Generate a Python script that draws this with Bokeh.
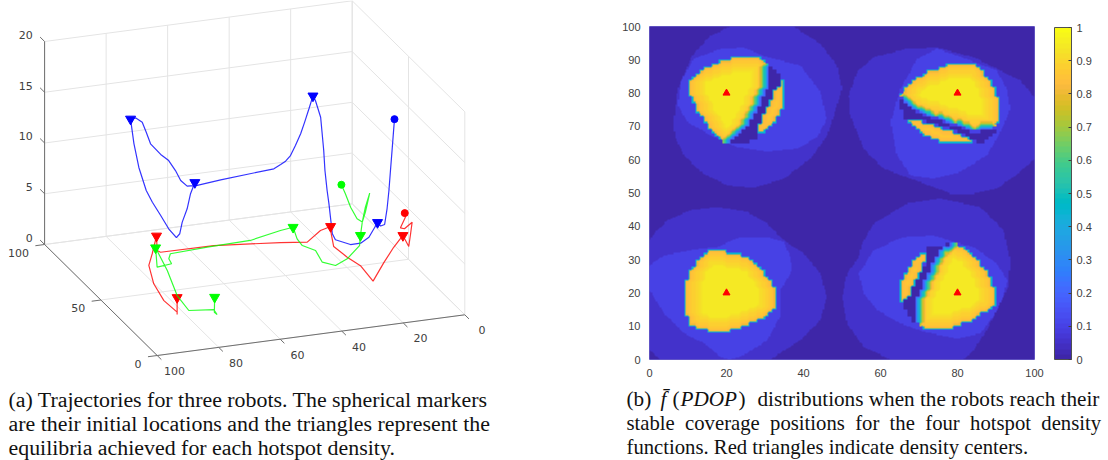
import numpy as np
from bokeh.core.properties import value
from bokeh.embed import file_html
from bokeh.layouts import column, row
from bokeh.models import ColorBar, FixedTicker, LinearColorMapper, Range1d
from bokeh.plotting import figure
from bokeh.resources import INLINE

# ---------- left chart: trajectories (x, y, z) ----------
BLUE_X = [0.9, 1.6, 2.2, 2.7, 3.3, 4.1, 5.4, 6.4, 9.2, 11.9, 15.2, 20.1, 21.1, 22.2, 22.8, 23.5, 23.9, 24.9, 26.6, 27.4,
          28.7, 30.1, 31.4, 33.1, 34.7, 36.3, 37.9, 40.1, 57.4, 65.0, 68.3, 70.4, 72.1, 74.3, 76.9, 80.2, 81.6, 82.9, 85.1, 86.7,
          85.6, 84.0, 81.6, 79.6, 76.9, 74.3, 71.8, 70.7, 69.9, 68.3, 67.2, 65.8]
BLUE_Z = [12.75, 10.02, 7.74, 5.79, 4.04, 2.50, 2.40, 2.79, 1.45, 0.97, 0.97, 1.64, 2.27, 5.26, 6.60, 8.60, 10.58, 13.90, 15.62, 16.10,
          14.89, 13.63, 12.53, 11.45, 10.52, 10.03, 9.76, 9.43, 9.04, 8.79, 8.85, 9.50, 10.54, 11.61, 12.32, 13.50, 14.70, 15.73, 16.26, 16.20,
          13.74, 11.32, 8.96, 7.72, 6.30, 4.89, 3.92, 4.26, 5.37, 6.62, 8.06, 9.11]
BLUE_Y = [60.0] * len(BLUE_X)
BLUE_STOPS = [7, 19, 39, 51]

RED_X = [12.2, 12.0, 13.6, 12.3, 9.8, 10.3, 10.9, 12.8, 15.8, 19.0, 22.5, 26.6, 30.9, 35.3, 36.1, 36.3, 39.6, 43.9, 52.6,
         74.3, 91.6, 92.7, 92.9, 94.3, 95.4, 93.8, 90.5, 86.2, 86.2, 86.2]
RED_Z = [8.32, 7.91, 6.93, 6.78, 7.33, 6.21, 4.98, 6.14, 5.10, 3.71, 2.03, 3.72, 4.73, 5.95, 7.24, 7.97, 7.71, 6.73, 7.04,
         7.61, 7.65, 7.86, 9.30, 7.61, 6.50, 4.63, 2.84, 1.53, 1.30, 2.97]
RED_Y = [20.0] * len(RED_X)
RED_STOPS = [7, 15, 22, 29]

GREEN_X = [32.8, 31.5, 29.8, 27.7, 26.0, 25.0, 23.6, 25.0, 26.0, 26.6, 26.9, 30.9, 34.7, 39.0, 41.2, 45.5, 47.2, 48.5,
           52.6, 62.4, 76.4, 88.4, 88.9, 88.0, 92.7, 93.2, 89.4, 86.2, 82.4, 74.3, 73.2, 74.1, 74.0]
GREEN_Z = [11.94, 11.00, 9.60, 8.38, 8.00, 8.93, 10.74, 9.42, 8.00, 6.70, 5.71, 4.57, 4.06, 4.56, 5.80, 6.46, 7.19, 8.38,
           8.23, 7.64, 7.54, 7.37, 6.90, 6.37, 6.22, 8.15, 5.76, 3.17, 1.54, 1.31, 0.78, 1.04, 2.51]
GREEN_Y = [20.0] * len(GREEN_X)
GREEN_STOPS = [9, 17, 25, 32]

X_TICKS = [0, 20, 40, 60, 80, 100]
Y_TICKS = [0, 50, 100]
Z_TICKS = [0, 5, 10, 15, 20]

# ---------- right chart: region outlines ----------
TL_MID = [(15.9, 97.3), (21.1, 100), (37.5, 100), (44.4, 94.8), (48.7, 88.3), (50, 81.3), (47.9, 73.3), (46.2, 67.3), (41.8, 60.3),
          (34.9, 54.3), (27.1, 51.6), (20.2, 52.3), (13.3, 56.3), (9, 61.3), (6.8, 66.3), (6.2, 70.3), (6.8, 76.3), (7.3, 81.3), (11.1, 91.3)]
TL_LIGHT = [(11.4, 90.3), (18.5, 93.3), (24.5, 93.6), (30.6, 90.8), (39.2, 88.3), (44.4, 80.3), (46, 72.3), (43.6, 66.8), (38.4, 63.3),
            (30.6, 62.3), (22.8, 63.8), (15.9, 67.3), (9.9, 71.3), (7.3, 76.3), (8.1, 83.3)]
TL_DARK = [(31, 89), (34.5, 84.5), (33, 80), (30, 74), (28, 66), (24, 64.8), (21, 65.2), (25, 69), (27.5, 74), (29.7, 79.3), (31.3, 83.3)]
TL_MAIN = [(10.3, 83.3), (11.6, 85.5), (14.2, 87.8), (18.5, 89.8), (22.8, 91), (28.9, 91.1), (31, 88.3), (31.3, 83.3), (29.7, 79.3),
           (27.6, 74.3), (25, 69.3), (21.1, 65.3), (19.4, 65.5), (15.9, 68.8), (12.4, 74.3), (10.3, 79.8)]
TL_SLIVER = [(34.5, 83.8), (35.3, 78.3), (34.1, 73.3), (30.6, 69.3), (27.6, 66.8), (27.6, 68.8), (29.7, 74.3), (32.3, 80.3)]

TR_MID = [(51.8, 79.3), (53.9, 86.3), (58.2, 90.8), (66.9, 93.3), (74.7, 93.6), (84.2, 90.8), (90.2, 87.3), (96.3, 83.8), (100, 78.8), (100, 60.3),
          (96.3, 56.3), (90.2, 51.3), (84.2, 49.8), (78.1, 49.8), (73.8, 51.8), (67.8, 54.3), (60.8, 57.3), (55.6, 63.3), (52.2, 73.3)]
TR_LIGHT = [(62.6, 71.3), (65.2, 81.3), (69.5, 90.3), (74.7, 93.3), (79.9, 91.3), (85, 89.1), (90.2, 86.8), (92.8, 81.3), (93.7, 75.3),
            (92, 70.3), (90.2, 66.3), (87.6, 61.3), (80.7, 56.3), (73.8, 54.3), (67.8, 55.3), (64.3, 61.3)]
TR_DARK = [(65.2, 78.8), (69, 74.3), (73.8, 72.3), (79, 70.3), (83.3, 68.3), (90.2, 68.8), (85.9, 64.8), (84.6, 65.5), (80.7, 68.3),
           (75.5, 70.3), (70.3, 72.3), (66.5, 72.3), (65.2, 75.3)]
TR_MAIN = [(65.3, 80.1), (68.6, 84.3), (72.9, 86.8), (79.4, 89.5), (83.7, 89.5), (88.1, 84.8), (90.2, 80.8), (91.3, 75.3), (91.3, 71.3),
           (88.5, 68.8), (83.3, 68.8), (79, 70.8), (73.8, 72.8), (69, 74.8), (66, 77.3)]
TR_SLIVER = [(66.9, 72.1), (70.3, 71.8), (75.5, 69.8), (80.7, 67.8), (84.6, 65.3), (79, 64.5), (75.5, 65.3), (71.2, 67.3), (68.6, 69.8)]

BL_MID = [(0, 3), (2.9, 0), (31.5, 0), (39.2, 5.8), (44.4, 11.8), (46, 18.8), (44.4, 25.8), (40.1, 31.8), (34.9, 35.8), (30.6, 40.8),
          (25.4, 44.3), (17.6, 45.8), (10.7, 44.8), (4.7, 41.8), (1.2, 37.8), (0, 35.8)]
BL_LIGHT = [(0, 28.3), (3.8, 31.3), (13.3, 33.3), (17.6, 33.8), (23.7, 36.8), (30.6, 36.8), (34.9, 35.3), (36.6, 30.8), (37.1, 26.8), (35.4, 23.3),
            (33.9, 20.8), (33.9, 12.8), (30.6, 5.8), (24.5, 1.3), (21, 0), (18.5, 0.8), (14.2, 4.8), (9, 7.8), (3.8, 13.8), (0, 20.8)]
BL_MAIN = [(15.9, 33.1), (18.5, 33.1), (22.8, 31.8), (26.3, 30.3), (29.7, 26.3), (32.3, 22.3), (33.4, 18.8), (33.2, 15.8), (29.7, 12.3),
           (24.5, 9.8), (20.2, 8.1), (15.5, 8.3), (10.7, 9.8), (9, 13.8), (8.7, 21.8), (10.3, 26.8), (12.9, 30.3)]

BR_MID = [(50, 18.8), (51.3, 25.8), (54.4, 30.8), (55.2, 34.8), (58.2, 40.8), (66.9, 46.8), (75.5, 48.3), (85.9, 45.8), (92, 38.8), (93.7, 29.8),
          (93.2, 21.8), (91.1, 16.8), (87.6, 8.8), (84.2, 2.8), (81.6, 0), (62.6, 0), (55.6, 3.8), (51.3, 10.8)]
BR_LIGHT = [(54.4, 25.8), (58.2, 32.8), (66, 36.8), (73.8, 37.3), (79, 35.3), (84.2, 33.8), (90.2, 28.8), (93, 23.8), (91.9, 18.8), (89.8, 13.8),
            (86, 7.8), (79.9, 6.3), (71.2, 8.3), (65.2, 10.8), (59.1, 14.8), (55.7, 19.8)]
BR_DARK = [(79.9, 34.8), (74.7, 34.3), (72.5, 33.5), (72.2, 29.8), (65.6, 16.3), (68.2, 11.3), (69, 11.3), (68.6, 16.8), (72.5, 25.8), (74.7, 31.8), (77.3, 34.3)]
BR_MAIN = [(79.9, 34.8), (82, 33.6), (85, 30.3), (88.1, 25.8), (89.8, 20.8), (89.8, 16.3), (84.2, 11.8), (77.3, 8.8), (71.2, 8.8), (69, 11.3),
           (68.6, 16.8), (70.3, 20.8), (72.5, 25.8), (74.7, 31.8), (77.3, 34.3)]
BR_SLIVER = [(72.5, 33.1), (72.2, 30.3), (69.9, 24.8), (67.3, 18.8), (65.6, 16.1), (64.7, 19.8), (65.6, 24.8), (68.6, 30.3)]

MID_VALUE = 0.05
LIGHT_VALUE = 0.10
BLOB_TONES = [0.45, 0.8, 0.84, 0.85, 0.86, 0.87, 0.875, 0.88, 0.89, 0.9, 0.905, 0.91, 0.92, 0.93, 0.94, 0.945, 0.95]
SLIVER_TONES = [0.45, 0.8, 0.83, 0.84, 0.85, 0.86]
FADE_TONES = [0.2, 0.3, 0.4, 0.5, 0.6, 0.7, 0.78, 0.84]
CENTERS_X = [20, 80, 20, 80]
CENTERS_Y = [80, 80, 20, 20]
BAR_TICKS = [0, 0.1, 0.2, 0.3, 0.4, 0.5, 0.6, 0.7, 0.8, 0.9, 1]
PARULA = [(0.2422, 0.1504, 0.6603), (0.2504, 0.1650, 0.7076), (0.2578, 0.1818, 0.7511), (0.2647, 0.1978, 0.7952), (0.2706, 0.2147, 0.8364),
          (0.2751, 0.2342, 0.8710), (0.2783, 0.2559, 0.8991), (0.2803, 0.2782, 0.9221), (0.2813, 0.3006, 0.9414), (0.2810, 0.3228, 0.9579),
          (0.2795, 0.3447, 0.9717), (0.2760, 0.3667, 0.9829), (0.2699, 0.3892, 0.9906), (0.2602, 0.4123, 0.9952), (0.2440, 0.4358, 0.9988),
          (0.2206, 0.4603, 0.9973), (0.1963, 0.4847, 0.9892), (0.1834, 0.5074, 0.9798), (0.1786, 0.5289, 0.9682), (0.1764, 0.5499, 0.9520),
          (0.1687, 0.5703, 0.9359), (0.1540, 0.5902, 0.9218), (0.1460, 0.6091, 0.9079), (0.1380, 0.6276, 0.8973), (0.1248, 0.6459, 0.8883),
          (0.1113, 0.6635, 0.8763), (0.0952, 0.6798, 0.8598), (0.0689, 0.6948, 0.8394), (0.0297, 0.7082, 0.8163), (0.0036, 0.7203, 0.7917),
          (0.0067, 0.7312, 0.7660), (0.0433, 0.7411, 0.7394), (0.0964, 0.7500, 0.7120), (0.1408, 0.7584, 0.6842), (0.1717, 0.7670, 0.6554),
          (0.1938, 0.7758, 0.6251), (0.2161, 0.7843, 0.5923), (0.2470, 0.7918, 0.5567), (0.2906, 0.7973, 0.5188), (0.3406, 0.8008, 0.4789),
          (0.3909, 0.8029, 0.4354), (0.4456, 0.8024, 0.3909), (0.5044, 0.7993, 0.3480), (0.5616, 0.7942, 0.3045), (0.6174, 0.7876, 0.2612),
          (0.6720, 0.7793, 0.2227), (0.7242, 0.7698, 0.1910), (0.7738, 0.7598, 0.1646), (0.8203, 0.7498, 0.1535), (0.8634, 0.7406, 0.1596),
          (0.9035, 0.7330, 0.1774), (0.9393, 0.7288, 0.2100), (0.9728, 0.7298, 0.2394), (0.9956, 0.7434, 0.2371), (0.9970, 0.7659, 0.2199),
          (0.9952, 0.7861, 0.1990), (0.9892, 0.8136, 0.1895), (0.9786, 0.8386, 0.1778), (0.9676, 0.8639, 0.1643), (0.9610, 0.8890, 0.1537),
          (0.9597, 0.9135, 0.1423), (0.9628, 0.9373, 0.1265), (0.9691, 0.9606, 0.1064), (0.9769, 0.9839, 0.0805)]

CAPTION_A = ["(a) Trajectories for three robots. The spherical markers",
             "are their initial locations and the triangles represent the",
             "equilibria achieved for each hotspot density."]
CAPTION_B_REST = ["distributions when the robots reach their",
                  "stable\u00a0 coverage\u00a0 positions\u00a0 for\u00a0 the\u00a0 four\u00a0 hotspot\u00a0 density",
                  "functions. Red triangles indicate density centers."]

PAGE_W, PAGE_H = 1108, 460
SPLIT = 548
TOP_H = 384
SERIF = "Liberation Serif"
CAP_SIZE = "21.9px"
CAP_B_SIZE = "20.7px"
CAP_B_FIRST_SIZE = "21.2px"
CAP_COLOR = "#111111"
CAP_BASE = [398.5, 422.5, 446.5]


def project(x, y, z):
    """Orthographic view of the 3-D box, in page pixels."""
    x, y, z = np.asarray(x, float), np.asarray(y, float), np.asarray(z, float)
    return 464.3 - 3.076 * x - 1.126 * y, 314.3 + 0.407 * x - 1.11 * y - 10.15 * z


left = figure(width=SPLIT, height=TOP_H, x_range=Range1d(0, SPLIT), y_range=Range1d(TOP_H, 0),
              output_backend="svg", toolbar_location=None, min_border=0, frame_align=False)
left.axis.visible = False
left.grid.visible = False
left.outline_line_color = None


def seg3(a, b, color, width=1):
    sx, sy = project([a[0], b[0]], [a[1], b[1]], [a[2], b[2]])
    left.line(sx, sy, line_color=color, line_width=width)


GRID = "#e4e4e4"
for xv in X_TICKS:
    seg3((xv, 100, 0), (xv, 100, 20), GRID)
    seg3((xv, 0, 0), (xv, 100, 0), GRID)
for yv in Y_TICKS:
    seg3((0, yv, 0), (0, yv, 20), GRID)
    seg3((0, yv, 0), (100, yv, 0), GRID)
for zv in Z_TICKS:
    seg3((100, 100, zv), (0, 100, zv), GRID)
    seg3((0, 100, zv), (0, 0, zv), GRID)

AXIS = "#6e6e6e"
seg3((0, 0, 0), (100, 0, 0), AXIS)
seg3((100, 0, 0), (100, 100, 0), AXIS)
seg3((100, 100, 0), (100, 100, 20), AXIS)
for xv in X_TICKS:
    seg3((xv, 0, 0), (xv, -3.7, 0), AXIS)
for yv in Y_TICKS:
    seg3((100, yv, 0), (103, yv, 0), AXIS)
for zv in Z_TICKS:
    seg3((100, 100, zv), (100, 104, zv), AXIS)


def tick_labels(xs, ys, labels, align):
    left.text(xs, ys, text=labels, text_font=value("DejaVu Sans"), text_font_size="11px", text_color="#404040",
              text_align=align, text_baseline="middle")


lx, ly = project(X_TICKS, [-14] * 6, [0] * 6)
tick_labels(lx + 1.5, ly, [str(v) for v in X_TICKS], "center")
lx, ly = project([109.5] * 3, Y_TICKS, [0] * 3)
tick_labels(lx + 13.5, ly + 4.4, [str(v) for v in Y_TICKS], "right")
lx, ly = project([100] * 5, [106] * 5, Z_TICKS)
tick_labels(lx - 5, ly, [str(v) for v in Z_TICKS], "right")

for xs, ys, zs, stops, color in [(BLUE_X, BLUE_Y, BLUE_Z, BLUE_STOPS, "#0000ff"),
                                 (RED_X, RED_Y, RED_Z, RED_STOPS, "#ff0000"),
                                 (GREEN_X, GREEN_Y, GREEN_Z, GREEN_STOPS, "#00ff00")]:
    sx, sy = project(xs, ys, zs)
    left.line(sx, sy, line_color=color, line_width=1.2, line_alpha=0.8)
    left.scatter(sx[:1], sy[:1], marker="circle", size=7, fill_color=color, line_color=color)
    left.scatter(sx[stops], sy[stops], marker="inverted_triangle", size=10, fill_color=color, line_color=color)


# ---------- right chart ----------
FINE = 3


def fill(poly, n=100):
    step = 100 / n
    xc, yc = np.meshgrid((np.arange(n) + 0.5) * step, (np.arange(n) + 0.5) * step)
    out = np.zeros_like(xc, dtype=bool)
    m = len(poly)
    for i in range(m):
        x0, y0 = poly[i]
        x1, y1 = poly[(i + 1) % m]
        if y0 == y1:
            continue
        out ^= ((y0 > yc) != (y1 > yc)) & (xc < (x1 - x0) * (yc - y0) / (y1 - y0) + x0)
    return out


def erode(m):
    p = np.pad(m, 1, constant_values=False)
    return p[1:-1, 1:-1] & p[:-2, 1:-1] & p[2:, 1:-1] & p[1:-1, :-2] & p[1:-1, 2:]


def dilate(m):
    return ~erode(~m)


def paint(grid, mask, tones):
    cur = mask.copy()
    for t in tones:
        grid[cur] = t
        cur = erode(cur)


def coarse_cells(poly):
    return np.kron(fill(poly), np.ones((FINE, FINE), dtype=bool))


field = np.zeros((100 * FINE, 100 * FINE))
for mid, light, dark, main, sliver in [(TL_MID, TL_LIGHT, TL_DARK, TL_MAIN, TL_SLIVER), (TR_MID, TR_LIGHT, TR_DARK, TR_MAIN, TR_SLIVER),
                                       (BL_MID, BL_LIGHT, None, BL_MAIN, None), (BR_MID, BR_LIGHT, BR_DARK, BR_MAIN, BR_SLIVER)]:
    field[fill(mid, 100 * FINE)] = MID_VALUE
    field[fill(light, 100 * FINE)] = LIGHT_VALUE
    main_mask = coarse_cells(main)
    if dark is not None:
        dark_mask = coarse_cells(dark)
        field[dark_mask] = 0.0
    paint(field, main_mask, BLOB_TONES)
    if dark is not None:
        cur = dark_mask & ~main_mask
        for t in FADE_TONES:
            ring = dilate(cur) & ~cur & main_mask
            field[ring] = t
            cur = cur | ring
    if sliver is not None:
        paint(field, coarse_cells(sliver), SLIVER_TONES)

palette = ["#%02x%02x%02x" % tuple(int(round(c * 255)) for c in rgb) for rgb in PARULA]
mapper = LinearColorMapper(palette=palette, low=0, high=1)

FRAME_L, FRAME_R, FRAME_T, FRAME_B = 649, 1034, 26, 359
right = figure(width=PAGE_W - SPLIT, height=TOP_H, x_range=Range1d(0, 100), y_range=Range1d(0, 100), output_backend="svg",
               toolbar_location=None, min_border_left=FRAME_L - SPLIT, min_border_right=PAGE_W - FRAME_R,
               min_border_top=FRAME_T, min_border_bottom=TOP_H - FRAME_B, frame_align=False)
right.image(image=[field], x=0, y=0, dw=100, dh=100, color_mapper=mapper)
right.scatter(CENTERS_X, CENTERS_Y, marker="triangle", size=7, fill_color="#ff0000", line_color="#ff0000")
right.grid.visible = False
right.outline_line_color = "#6a5fc8"
right.xaxis.ticker = FixedTicker(ticks=[0, 20, 40, 60, 80, 100])
right.yaxis.ticker = FixedTicker(ticks=list(range(0, 101, 10)))
for ax in right.axis:
    ax.axis_line_color = None
    ax.major_tick_line_color = None
    ax.minor_tick_line_color = None
    ax.major_label_text_font = "Liberation Sans"
    ax.major_label_text_font_size = "11px"
    ax.major_label_text_color = "#404040"
    ax.major_label_standoff = 3

bar = ColorBar(color_mapper=mapper, width=17, height=332, location=(FRAME_R - FRAME_L + 20, 0), margin=0, padding=0,
               ticker=FixedTicker(ticks=BAR_TICKS), major_label_overrides={0: "0", 1: "1"},
               major_label_text_font="Liberation Sans", major_label_text_font_size="11px", major_label_text_color="#404040",
               major_tick_line_color="#404040", major_tick_in=3, major_tick_out=0, minor_tick_line_color=None,
               bar_line_color="#505050", label_standoff=5)
right.add_layout(bar, "center")

# ---------- captions ----------
cap = figure(width=PAGE_W, height=PAGE_H - TOP_H, x_range=Range1d(0, PAGE_W), y_range=Range1d(PAGE_H, TOP_H),
             output_backend="svg", toolbar_location=None, min_border=0, frame_align=False)
cap.axis.visible = False
cap.grid.visible = False
cap.outline_line_color = None


def caption(text, x, y, size=CAP_SIZE, font_style="normal"):
    cap.text([x], [y], text=[text], text_font=value(SERIF), text_font_size=size, text_color=CAP_COLOR,
             text_font_style=font_style, text_align="left", text_baseline="alphabetic")


for line, y in zip(CAPTION_A, CAP_BASE):
    caption(line, 8, y)
caption("(b)", 626, CAP_BASE[0], CAP_B_FIRST_SIZE)
caption("f\u0304", 660, CAP_BASE[0], CAP_B_FIRST_SIZE, "italic")
caption("(", 672, CAP_BASE[0], CAP_B_FIRST_SIZE)
caption("PDOP", 680, CAP_BASE[0], CAP_B_FIRST_SIZE, "italic")
caption(")", 738, CAP_BASE[0], CAP_B_FIRST_SIZE)
caption(CAPTION_B_REST[0], 757, CAP_BASE[0], CAP_B_FIRST_SIZE)
caption(CAPTION_B_REST[1], 626, CAP_BASE[1], CAP_B_SIZE)
caption(CAPTION_B_REST[2], 626, CAP_BASE[2], CAP_B_SIZE)

open("out.html", "w").write(file_html(column(row(left, right), cap), INLINE))
